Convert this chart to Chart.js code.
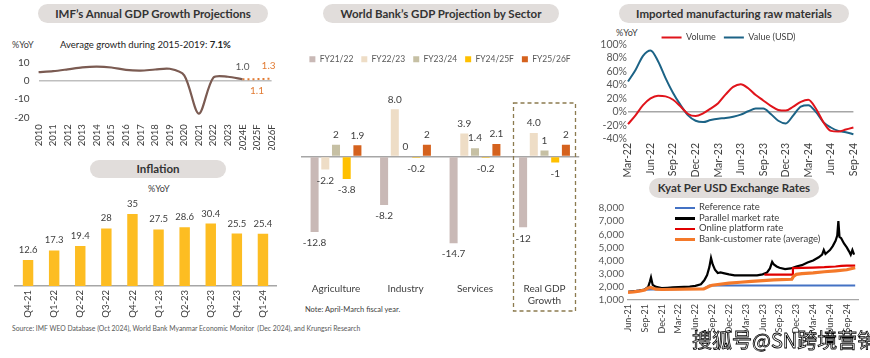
<!DOCTYPE html>
<html>
<head>
<meta charset="utf-8">
<script src="https://cdn.jsdelivr.net/npm/chart.js@4.4.1/dist/chart.umd.min.js"></script>
<style>
  body { margin: 0; background: #fff; font-family: Lato, sans-serif; }
  #wrap { position: relative; width: 870px; height: 358px; overflow: hidden; }
  .pill { position: absolute; background: #e1dddb; border-radius: 10px; font-weight: bold; color: #333;
          text-align: center; font-size: 11.5px; line-height: 19px; height: 19px; white-space: nowrap; }
  .txt { position: absolute; color: #404040; font-size: 9px; white-space: nowrap; line-height: 1; }
  canvas { position: absolute; }
  .lg { position: absolute; left: 675px; font-size: 9.5px; color: #404040; line-height: 1; white-space: nowrap; }
  .lg i { display: inline-block; width: 20px; vertical-align: middle; margin-right: 4px; }
  #wm { position: absolute; left: 692px; top: 325px; font-family: "Noto Sans CJK SC"; font-size: 20px; font-weight: normal;
        color: #fff; -webkit-text-stroke: 0.8px #000; white-space: nowrap; }
</style>
</head>
<body>
<div id="wrap">
  <div class="pill" style="left:38px;top:4px;width:230px;">IMF’s Annual GDP Growth Projections</div>
  <div class="pill" style="left:90px;top:160px;width:136px;height:18px;line-height:18px;">Inflation</div>
  <div class="pill" style="left:323px;top:4px;width:236px;">World Bank’s GDP Projection by Sector</div>
  <div class="pill" style="left:619px;top:4px;width:230px;">Imported manufacturing raw materials</div>
  <div class="pill" style="left:649px;top:178px;width:170px;height:20px;line-height:20px;">Kyat Per USD Exchange Rates</div>

  <div class="txt" style="left:12px;top:40px;">%YoY</div>
  <div class="txt" style="left:60px;top:40px;font-size:9.5px;color:#222;">Average growth during 2015-2019: <b>7.1%</b></div>
  <div class="txt" style="left:148px;top:184px;">%YoY</div>
  <div class="txt" style="left:305px;top:306px;font-size:7.5px;">Note: April-March fiscal year.</div>
  <div class="txt" style="left:616px;top:28px;">%YoY</div>
  <div class="txt" style="left:12px;top:325px;font-size:6.8px;color:#595959;">Source: IMF WEO Database (Oct 2024), World Bank Myanmar Economic Monitor&nbsp; (Dec 2024), and Krungsri Research</div>

  <canvas id="c1" width="290" height="102" style="left:0;top:48px;"></canvas>
  <canvas id="c2" width="290" height="140" style="left:0;top:180px;"></canvas>
  <canvas id="c3" width="300" height="265" style="left:290px;top:47px;"></canvas>
  <canvas id="c4" width="280" height="160" style="left:590px;top:25px;"></canvas>
  <canvas id="c5" width="280" height="140" style="left:590px;top:198px;"></canvas>

  <div class="lg" style="top:202px;"><i style="border-top:2px solid #4472c4;"></i>Reference rate</div>
  <div class="lg" style="top:213px;"><i style="border-top:3px solid #000;"></i>Parallel market rate</div>
  <div class="lg" style="top:223px;"><i style="border-top:2.5px solid #e00000;"></i>Online platform rate</div>
  <div class="lg" style="top:234px;"><i style="border-top:3.5px solid #f4792a;"></i>Bank-customer rate (average)</div>

  <div id="wm">搜狐号@SN跨境营销</div>
</div>

<script>
// ---- data ----
const gdpYears = ['2010', '2011', '2012', '2013', '2014', '2015', '2016', '2017', '2018', '2019',
  '2020', '2021', '2022', '2023', '2024E', '2025F', '2026F'];
const gdpActual = [5.0, 5.5, 6.5, 7.6, 8.0, 7.5, 6.2, 5.8, 6.4, 6.8, 3.2, -18.0, 1.9, 2.4, 1.0, null, null];
const gdpForecast = [null, null, null, null, null, null, null, null, null, null, null, null, null, null, 1.0, 1.1, 1.3];

const inflQuarters = ['Q4-21', 'Q1-22', 'Q2-22', 'Q3-22', 'Q4-22', 'Q1-23', 'Q2-23', 'Q3-23', 'Q4-23', 'Q1-24'];
const inflValues = [12.6, 17.3, 19.4, 28, 35, 27.5, 28.6, 30.4, 25.5, 25.4];

const sectors = ['Agriculture', 'Industry', 'Services', ['Real GDP', 'Growth']];
const fy2122 = [-12.8, -8.2, -14.7, -12];
const fy2223 = [-2.2, 8.0, 3.9, 4.0];
const fy2324 = [2, 0, 1.4, 1];
const fy2425 = [-3.8, -0.2, -0.2, -1];
const fy2526 = [1.9, 2, 2.1, 2];

const impMonths = ['Mar-22', 'Apr-22', 'May-22', 'Jun-22', 'Jul-22', 'Aug-22', 'Sep-22', 'Oct-22', 'Nov-22', 'Dec-22',
  'Jan-23', 'Feb-23', 'Mar-23', 'Apr-23', 'May-23', 'Jun-23', 'Jul-23', 'Aug-23', 'Sep-23', 'Oct-23', 'Nov-23', 'Dec-23',
  'Jan-24', 'Feb-24', 'Mar-24', 'Apr-24', 'May-24', 'Jun-24', 'Jul-24', 'Aug-24', 'Sep-24'];
const impVolume = [-18, -5, 10, 20, 24, 23, 18, 8, -3, -6, -2, 5, 13, 26, 37, 41, 35, 25, 17, 9, 3, 2, 8, 15, 18, 5, -15, -28, -29, -26, -23];
const impValue = [45, 62, 83, 91, 75, 50, 28, 10, -5, -13, -15, -12, -10, -9, -7, -4, 1, 5, 5, -3, -13, -17, -5, 8, 10, 0, -15, -23, -28, -30, -33];

// kyat: x = months since Jun-21
const kyatTicks = ['Jun-21', 'Sep-21', 'Dec-21', 'Mar-22', 'Jun-22', 'Sep-22', 'Dec-22', 'Mar-23', 'Jun-23', 'Sep-23', 'Dec-23', 'Mar-24', 'Jun-24', 'Sep-24'];
const refX = [0, 3, 4, 13.5, 14.5, 40.5];
const refY = [1600, 1780, 1800, 1850, 2100, 2100];
const parX = [0, 1, 2, 3, 3.6, 3.9, 4.1, 4.4, 5, 6, 7, 8, 9, 10, 11, 12, 13, 13.6, 14.1, 14.5,
  14.8, 15.1, 15.5, 16, 16.5, 17, 18, 19, 20, 21, 22, 23, 24, 24.8, 25.3, 25.7, 26, 26.5, 27, 28,
  29, 30, 31, 32, 33, 34, 34.6, 34.9, 35.2, 35.6, 36, 36.5, 37, 37.3, 37.5, 37.7, 38, 38.5, 39, 39.4,
  39.7, 40, 40.3];
const parY = [1620, 1660, 1720, 1800, 2000, 2400, 2720, 2150, 2000, 1900, 1930, 1960, 1980, 2000, 2020, 2080, 2200, 2500, 2900, 3500,
  4200, 3700, 3300, 3050, 3100, 3050, 2950, 2880, 2870, 2870, 2870, 2880, 2950, 3100, 3400, 3900, 3700, 3550, 3450, 3350,
  3400, 3550, 3650, 3850, 4000, 4250, 4450, 4800, 4500, 4650, 4800, 5100, 5500, 5900, 7000, 5800, 5700, 5300, 5000, 4700,
  4450, 4800, 4450];
const onlineX = [24.3, 29.3, 29.4, 31, 33, 35, 37, 38, 39, 40.5];
const onlineY = [2930, 2930, 3430, 3450, 3470, 3500, 3550, 3600, 3620, 3620];
const bankX = [0, 1, 2, 3, 3.5, 4, 5, 6, 13.5, 14.5, 15, 16, 18, 20, 22, 24, 26, 29.2, 29.5, 30, 31, 33, 35, 37, 39, 40.5];
const bankY = [1580, 1620, 1680, 1760, 1900, 1950, 1820, 1800, 1850, 2050, 2120, 2180, 2280, 2350, 2420, 2480, 2530, 2580, 2800, 2950, 3000, 3060, 3150, 3220, 3300, 3450];

// ---- common ----
Chart.defaults.font.family = 'Lato, sans-serif';
Chart.defaults.color = '#404040';
Chart.defaults.animation = false;
Chart.defaults.plugins.tooltip.enabled = false;
Chart.defaults.plugins.legend.display = false;

const fixW = w => s => { s.width = w; };
const fixH = h => s => { s.height = h; };
const noGrid = { display: false, drawTicks: false };
const zeroGrid = col => ({ drawTicks: false, lineWidth: 1.5, color: c => (c.tick && c.tick.value === 0 ? col : 'transparent') });

// text labels on marks
const valueLabels = {
  id: 'valueLabels',
  afterDatasetsDraw(chart, args, opts) {
    const ctx = chart.ctx;
    ctx.save();
    ctx.font = (opts.size || 10) + 'px Lato';
    ctx.textAlign = 'center';
    ctx.textBaseline = 'middle';
    chart.data.datasets.forEach((ds, i) => {
      chart.getDatasetMeta(i).data.forEach((el, j) => {
        const v = ds.data[j];
        if (v === null || v === undefined) return;
        const t = opts.text(v, i, j);
        if (!t) return;
        ctx.fillStyle = t.color || '#404040';
        ctx.fillText(t.s, el.x + (t.dx || 0), el.y + t.dy);
      });
    });
    ctx.restore();
  }
};

// ---- 1: IMF GDP ----
new Chart(document.getElementById('c1'), {
  type: 'line',
  data: {
    labels: gdpYears,
    datasets: [
      { data: gdpActual, borderColor: '#7b5b52', borderWidth: 2.2, pointRadius: 0, tension: 0.3 },
      { data: gdpForecast, borderColor: '#e27b33', borderWidth: 2, borderDash: [2, 3], pointRadius: 0 }
    ]
  },
  plugins: [valueLabels],
  options: {
    responsive: false,
    layout: { padding: { top: 9.3, right: 11.2, left: 0, bottom: 0 } },
    plugins: {
      valueLabels: {
        size: 10,
        text: (v, i, j) => {
          if (i !== 1) return null;
          if (j === 14) return { s: v.toFixed(1), dy: -13, color: '#595959' };
          if (j === 15) return { s: v.toFixed(1), dy: 12, color: '#e27b33' };
          return { s: v.toFixed(1), dy: -13, dx: -3, color: '#e27b33' };
        }
      }
    },
    scales: {
      x: { afterFit: fixH(32.7), grid: noGrid, border: { display: false },
           ticks: { minRotation: 90, maxRotation: 90, padding: 7, autoSkip: false, font: { size: 9.5 } } },
      y: { min: -20, max: 10, afterFit: fixW(38.6), border: { display: false }, grid: zeroGrid('#bfbfbf'),
           ticks: { stepSize: 10, padding: 9, autoSkip: false, font: { size: 10 } } }
    }
  }
});

// ---- 2: Inflation ----
new Chart(document.getElementById('c2'), {
  type: 'bar',
  data: {
    labels: inflQuarters,
    datasets: [{ data: inflValues, backgroundColor: '#fdbd22', barPercentage: 0.4, categoryPercentage: 1 }]
  },
  plugins: [valueLabels],
  options: {
    responsive: false,
    layout: { padding: { top: 23.7, left: 15, right: 14, bottom: 0 } },
    plugins: { valueLabels: { size: 9.5, text: v => ({ s: String(v), dy: -10 }) } },
    scales: {
      x: { afterFit: fixH(34), grid: noGrid, border: { display: true, color: '#a6a6a6', width: 1.5 },
           ticks: { minRotation: 90, maxRotation: 90, padding: 4, autoSkip: false, font: { size: 9.5 } } },
      y: { display: false, min: 0, max: 40 }
    }
  }
});

// ---- 3: World Bank sectors ----
const legendGap = {
  id: 'legendGap',
  beforeInit(chart) {
    const fit = chart.legend.fit;
    chart.legend.fit = function () { fit.bind(chart.legend)(); this.height = chart.options.plugins.legendGap.height; };
  }
};
const dashedBox = {
  id: 'dashedBox',
  afterDraw(chart) {
    const x = chart.scales.x.getPixelForValue(3);
    const ctx = chart.ctx;
    ctx.save();
    ctx.strokeStyle = '#8c7b4f';
    ctx.lineWidth = 1.3;
    ctx.setLineDash([4, 3]);
    ctx.strokeRect(x - 31, chart.chartArea.top + 5.5, 62, chart.height - chart.chartArea.top - 6.5);
    ctx.restore();
  }
};
const sectorColors = ['#c9b9b6', '#eeddc6', '#c6c0a4', '#ffc000', '#d5621e'];
new Chart(document.getElementById('c3'), {
  type: 'bar',
  data: {
    labels: sectors,
    datasets: [
      { label: 'FY21/22', data: fy2122 },
      { label: 'FY22/23', data: fy2223 },
      { label: 'FY23/24', data: fy2324 },
      { label: 'FY24/25F', data: fy2425 },
      { label: 'FY25/26F', data: fy2526 }
    ].map((d, i) => Object.assign(d, { backgroundColor: sectorColors[i], barPercentage: 0.75, categoryPercentage: 0.77 }))
  },
  plugins: [legendGap, valueLabels, dashedBox],
  options: {
    responsive: false,
    layout: { padding: 0 },
    plugins: {
      legend: { display: true, position: 'top',
                labels: { boxWidth: 6, boxHeight: 6, padding: 8, color: '#595959', font: { size: 8.5 } } },
      legendGap: { height: 50.5 },
      valueLabels: {
        size: 10,
        text: (v, i) => ({ s: i === 1 ? v.toFixed(1) : String(v), dy: v >= 0 ? -10 : 11 })
      }
    },
    scales: {
      x: { afterFit: fixH(37.5), grid: noGrid, border: { display: false },
           ticks: { padding: 8, font: { size: 10 }, color: '#404040' } },
      y: { min: -20, max: 10, afterFit: fixW(11.25), border: { display: false }, grid: zeroGrid('#a6a6a6'),
           ticks: { display: false, stepSize: 10 } },
      yRight: { position: 'right', min: -20, max: 10, afterFit: fixW(10.75), border: { display: false },
                grid: noGrid, ticks: { display: false } }
    }
  }
});

// ---- 4: Imported raw materials ----
new Chart(document.getElementById('c4'), {
  type: 'line',
  data: {
    labels: impMonths,
    datasets: [
      { label: 'Volume', data: impVolume, borderColor: '#e0141b', backgroundColor: '#e0141b' },
      { label: 'Value (USD)', data: impValue, borderColor: '#1c6386', backgroundColor: '#1c6386' }
    ].map(d => Object.assign(d, { borderWidth: 2, pointRadius: 0, cubicInterpolationMode: 'monotone', tension: 0.4 }))
  },
  plugins: [legendGap],
  options: {
    responsive: false,
    layout: { padding: { top: 0, left: 10, right: 13, bottom: 0 } },
    plugins: {
      legend: { display: true, position: 'top',
                labels: { usePointStyle: true, pointStyle: 'line', pointStyleWidth: 20, padding: 8, color: '#404040', font: { size: 9 } } },
      legendGap: { height: 19.3 }
    },
    scales: {
      x: { afterFit: fixH(46), grid: noGrid, border: { display: false },
           ticks: { minRotation: 90, maxRotation: 90, padding: 4, autoSkip: false, font: { size: 10.5 },
                    callback: (v, i) => (i % 3 === 0 ? impMonths[i] : '') } },
      y: { min: -40, max: 100, afterFit: fixW(28), border: { display: false }, grid: zeroGrid('#a6a6a6'),
           ticks: { stepSize: 20, padding: 1, autoSkip: false, font: { size: 10.5 }, color: '#595959', callback: v => v + '%' } }
    }
  }
});

// ---- 5: Kyat per USD ----
const pts = (xs, ys) => xs.map((x, i) => ({ x, y: ys[i] }));
new Chart(document.getElementById('c5'), {
  type: 'line',
  data: {
    datasets: [
      { label: 'Reference rate', data: pts(refX, refY), borderColor: '#4472c4', borderWidth: 2, order: 4 },
      { label: 'Parallel market rate', data: pts(parX, parY), borderColor: '#000', borderWidth: 2.2, order: 3 },
      { label: 'Online platform rate', data: pts(onlineX, onlineY), borderColor: '#e00000', borderWidth: 2.2, order: 2 },
      { label: 'Bank-customer rate (average)', data: pts(bankX, bankY), borderColor: '#f4792a', borderWidth: 3.2, order: 1 }
    ].map(d => Object.assign(d, { pointRadius: 0, tension: 0 }))
  },
  options: {
    responsive: false,
    layout: { padding: { top: 7, left: 0, right: 12, bottom: 0 } },
    scales: {
      x: { type: 'linear', min: 0, max: 41, afterFit: fixH(38), grid: noGrid,
           border: { display: true, color: '#a6a6a6', width: 1.2 },
           ticks: { stepSize: 3, minRotation: 90, maxRotation: 90, padding: 4, autoSkip: false, font: { size: 9 },
                    callback: v => kyatTicks[v / 3] } },
      y: { min: 1000, max: 8000, afterFit: fixW(38), border: { display: false }, grid: noGrid,
           ticks: { stepSize: 1000, padding: 4, autoSkip: false, font: { size: 10 }, color: '#595959',
                    callback: v => v.toLocaleString('en-US') } }
    }
  }
});
</script>
</body>
</html>
